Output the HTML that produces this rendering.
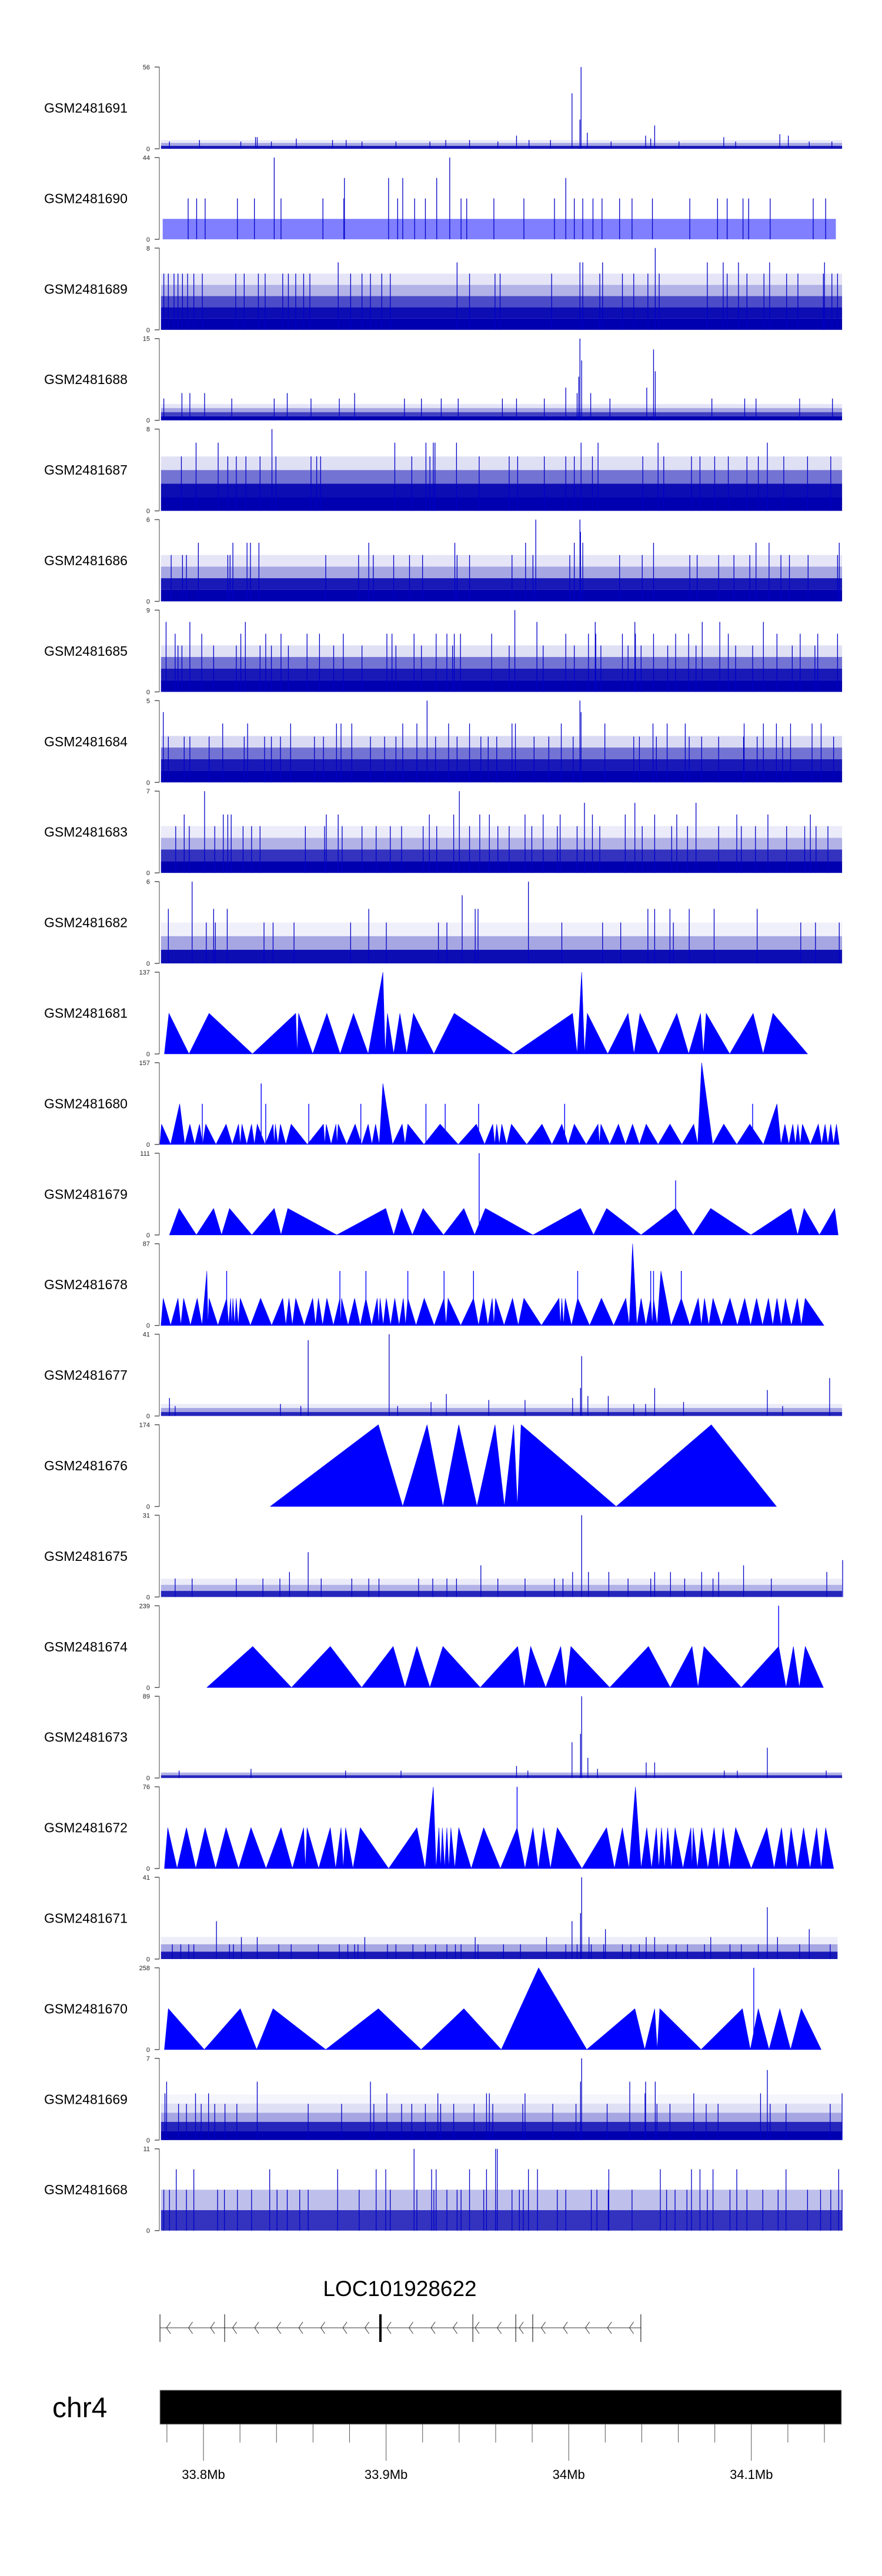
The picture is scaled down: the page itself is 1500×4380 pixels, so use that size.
<!DOCTYPE html>
<html><head><meta charset="utf-8"><title>Genome tracks chr4</title>
<style>
html,body{margin:0;padding:0;background:#fff;}
svg{display:block;font-family:"Liberation Sans",Arial,sans-serif;}
</style></head>
<body>
<svg id="chart" xmlns="http://www.w3.org/2000/svg" width="1500" height="4380" viewBox="0 0 1500 4380">
<rect x="0" y="0" width="1500" height="4380" fill="#fff"/>
<g id="tracks"></g>
<g id="gene"></g>
<g id="ideo"></g>
</svg>
<script>
// ---------- data (bins of 0.31 kb starting at 33688.4 kb) ----------
const trackNames = ["GSM2481691","GSM2481690","GSM2481689","GSM2481688","GSM2481687","GSM2481686","GSM2481685","GSM2481684","GSM2481683","GSM2481682","GSM2481681","GSM2481680","GSM2481679","GSM2481678","GSM2481677","GSM2481676","GSM2481675","GSM2481674","GSM2481673","GSM2481672","GSM2481671","GSM2481670","GSM2481669","GSM2481668"];
const trackMax = [56,44,8,15,8,6,9,5,7,6,137,157,111,87,41,174,31,239,89,76,41,258,7,11];

// noise tracks: coverage per level step + spike groups
const n1691_step = 2, n1691_cov = [0.9,0.35,0.08];
const n1691_lv = [56,38,20,16,11,10,9,8,7,6,5];
const n1691_bins = [[1027],[1011],[1025],[1157],[1038],[1378],[913,1141,1393],[452,455,1279],[524,1150],[353,588,612,788,830,973,935],[300,426,480,640,700,760,880,1080,1200,1300,1430,1470]];
const n1690_step = 11, n1690_cov = [0.5];
const n1690_lv = [44,33,22];
const n1690_bins = [[485,795],[609,687,712,772,1000],[333,348,363,420,450,497,571,608,703,733,752,815,825,873,926,980,1015,1030,1048,1064,1095,1117,1153,1219,1268,1285,1313,1323,1361,1437,1459]];
const n1689_step = 1.1, n1689_cov = [1,0.95,0.7,0.3,0.1];
const n1689_lv = [8,6.6,5.5];
const n1689_bins = [[1158],[598,808,1025,1030,1065,1250,1278,1305,1360,1457],[290,298,308,315,323,332,343,358,417,432,457,469,500,510,523,537,548,620,640,655,675,690,830,875,884,975,1060,1100,1120,1145,1165,1285,1320,1350,1390,1410,1455,1470,1480]];
const n1688_step = 0.75, n1688_cov = [1,0.75,0.35,0.1];
const n1688_lv = [15,13,11,9,8,6,5,4];
const n1688_bins = [[1025],[1155],[1028],[1158],[1023],[1000,1143],[1020,322,336,362,508,627,1044],[410,550,810,888,913,962,1078,1258,1316,1336,1413,1471,290,485,600,715,745,780]];
const n1687_step = 1.33, n1687_cov = [1,0.95,0.55,0.12];
const n1687_lv = [8,6.67,5.33];
const n1687_bins = [[481],[347,386,698,753,766,769,807,1027,1057,1163,1356],[321,403,418,435,460,488,550,560,567,728,760,847,900,915,962,1000,1015,1047,1136,1173,1222,1237,1263,1287,1320,1340,1385,1427,1468]];
const n1686_step = 0.85, n1686_cov = [1,0.9,0.35,0.1];
const n1686_lv = [6,5.1,4.3,3.4];
const n1686_bins = [[947,1025],[1026],[351,412,437,443,458,652,804,929,1015,1030,1155,1336,1359,1483],[303,323,330,403,407,576,634,660,696,724,747,808,830,905,942,1007,1095,1135,1219,1232,1270,1297,1325,1380,1395,1428,1480]];
const n1685_step = 1.28, n1685_cov = [1,0.9,0.55,0.12];
const n1685_lv = [9,7.7,6.4,5.1];
const n1685_bins = [[910],[294,336,434,949,1052,1122,1241,1272,1349],[310,357,426,470,497,543,565,607,684,693,732,771,790,803,814,869,1000,1040,1053,1100,1123,1155,1194,1217,1287,1373,1414,1445,1480],[315,322,378,418,460,480,510,590,640,700,745,800,900,960,1015,1062,1110,1133,1180,1230,1300,1330,1400,1440]];
const n1684_step = 0.71, n1684_cov = [1,0.9,0.55,0.15];
const n1684_lv = [5,4.3,3.6,2.8];
const n1684_bins = [[755,1025],[289,1027],[394,438,514,595,603,622,712,737,793,830,905,911,992,1069,1154,1179,1211,1315,1349,1372,1397,1435,1451],[298,326,336,370,432,468,480,496,556,572,655,680,700,770,808,850,863,878,944,970,1013,1120,1130,1160,1218,1240,1270,1314,1338,1383,1473]];
const n1683_step = 1, n1683_cov = [1,0.8,0.3,0.08];
const n1683_lv = [7,6,5,4];
const n1683_bins = [[362,812],[1033,1122,1230],[326,395,403,409,577,598,759,802,848,865,928,960,990,1047,1105,1157,1196,1302,1357,1432],[311,335,380,430,445,460,540,574,605,640,665,690,710,748,772,830,880,900,940,985,1020,1060,1135,1187,1215,1270,1310,1335,1390,1422,1442,1463]];
const n1682_step = 1, n1682_cov = [0.95,0.35,0.06];
const n1682_lv = [6,5,4,3];
const n1682_bins = [[340,934],[817],[298,378,402,652,840,845,1145,1157,1184,1218,1262,1338],[365,381,467,483,520,620,683,775,790,993,1065,1097,1190,1415,1441,1483]];
const n1677_step = 2, n1677_cov = [0.85,0.35,0.08];
const n1677_lv = [41,38,30,19,14,13,11,10,9,8,7,6,5];
const n1677_bins = [[688],[545],[1028],[1466],[1157,1026],[1356],[789],[1075,1039],[1012,300],[864,928],[762,1208],[496,1120,1141],[703,1383,310,532]];
const n1675_step = 2.3, n1675_cov = [0.85,0.3,0.08];
const n1675_lv = [31,17,14,12,9.5,7];
const n1675_bins = [[1028],[545],[1489],[850,1314],[512,1012,1040,1076,1157,1185,1240,1270,1461],[310,340,418,465,495,568,622,652,670,740,765,790,807,880,928,980,995,1110,1150,1210,1260,1363]];
const n1673_step = 3, n1673_cov = [0.85,0.3];
const n1673_lv = [89,48,39,33,22,17,13,10,8];
const n1673_bins = [[1028],[1026],[1011],[1356],[1039],[1142,1157],[913],[444,1056],[317,933,1303,1280,1460,611,709]];
const n1671_step = 3.7, n1671_cov = [0.9,0.35,0.07];
const n1671_lv = [41,26,23,19,15,11,7.4];
const n1671_bins = [[1028],[1356],[1026],[383,1011],[1070,1430],[427,455,645,840,966,1142,1157,1256,1374,1041],[305,320,334,343,406,413,493,515,563,600,615,627,633,685,700,730,752,770,790,805,815,845,890,920,1000,1020,1045,1067,1100,1115,1130,1180,1195,1215,1245,1290,1310,1340,1413,1467]];
const n1669_step = 0.78, n1669_cov = [1,0.85,0.35,0.12,0.04];
const n1669_lv = [7,6,5,4,3.1];
const n1669_bins = [[1028],[1356],[295,455,655,1026,1113,1141,1158],[292,346,369,684,774,860,865,928,1140,1226,1344,1488],[316,330,356,380,398,419,545,604,661,710,728,752,779,802,838,871,924,977,1018,1073,1161,1184,1248,1269,1361,1389,1467]];
const n1668_step = 2.75, n1668_cov = [0.8,0.25];
const n1668_lv = [11,8.25,5.5];
const n1668_bins = [[732,876,879],[312,343,477,597,665,682,763,771,830,860,934,950,1076,1167,1222,1237,1260,1302,1389,1482],[290,300,330,385,397,420,445,490,508,530,545,635,690,737,767,790,808,815,855,905,918,925,985,1000,1045,1055,1075,1117,1178,1193,1214,1250,1290,1320,1348,1375,1427,1450,1468,1488]];

// triangle (sparse-read) tracks: peaks + thin spikes
const t1681_peakBin = [299,370,523,528,578,625,677,685,707,731,803,1012,1028,1038,1110,1131,1196,1238,1248,1331,1366];
const t1681_peakVal = [68,68,68,68,68,68,137,68,68,68,68,68,137,68,68,68,68,68,68,68,68];
const t1681_range = [291,1427], t1681_spikeBin = [], t1681_spikeVal = [];
const t1680_peakBin = [286,318,336,353,364,400,422,428,445,455,483,487,496,515,572,577,594,598,628,651,664,677,711,721,778,842,871,878,887,904,958,993,1015,1057,1062,1093,1118,1142,1184,1226,1240,1279,1325,1373,1387,1401,1410,1418,1446,1458,1468,1478];
const t1680_peakVal = [39,78,39,39,39,39,39,39,39,39,39,39,39,39,39,39,39,39,39,39,39,117,39,39,39,39,39,39,39,39,39,39,39,39,39,39,39,39,39,39,157,39,39,78,39,39,39,39,39,39,39,39];
const t1680_range = [283,1483];
const t1680_spikeBin = [358,462,470,546,638,753,787,846,998,1330];
const t1680_spikeVal = [78,117,78,78,78,78,78,78,78,78];
const t1679_peakBin = [317,378,406,485,509,682,710,748,820,858,1026,1072,1194,1256,1398,1421,1475];
const t1679_peakVal = [36,36,36,36,36,36,36,36,36,36,36,36,36,36,36,36,36];
const t1679_range = [300,1481];
const t1679_spikeBin = [847,1194];
const t1679_spikeVal = [111,74];
const t1678_peakBin = [289,315,325,349,366,370,401,408,412,418,425,461,500,511,523,553,563,578,601,604,627,647,667,672,683,698,713,721,750,785,792,837,855,870,876,906,926,988,993,999,1021,1063,1106,1118,1133,1150,1155,1168,1204,1234,1245,1260,1290,1316,1337,1358,1373,1388,1409,1423];
const t1678_peakVal = [29,29,29,29,58,29,29,29,29,29,29,29,29,29,29,29,29,29,29,29,29,29,29,29,29,29,29,29,29,29,29,29,29,29,29,29,29,29,29,29,29,29,29,87,29,29,29,58,29,29,29,29,29,29,29,29,29,29,29,29];
const t1678_range = [285,1456];
const t1678_spikeBin = [401,601,647,721,785,837,1021,1150,1155,1204];
const t1678_spikeVal = [58,58,58,58,58,58,58,58,58,58];
const t1676_peakBin = [669,755,811,875,908,921,1257];
const t1676_peakVal = [174,174,174,174,174,174,174];
const t1676_range = [478,1372], t1676_spikeBin = [], t1676_spikeVal = [];
const t1674_peakBin = [447,584,695,737,783,915,938,991,1009,1146,1223,1244,1376,1402,1423];
const t1674_peakVal = [120,120,120,120,120,120,120,120,120,120,120,120,120,120,120];
const t1674_range = [366,1455];
const t1674_spikeBin = [1376];
const t1674_spikeVal = [239];
const t1672_peakBin = [297,330,363,400,444,497,537,543,584,603,611,637,737,766,776,782,790,797,811,855,914,942,961,985,1072,1100,1123,1143,1160,1169,1180,1193,1221,1225,1240,1262,1278,1300,1355,1381,1398,1420,1443,1459];
const t1672_peakVal = [38,38,38,38,38,38,38,38,38,38,38,38,38,76,38,38,38,38,38,38,38,38,38,38,38,38,76,38,38,38,38,38,38,38,38,38,38,38,38,38,38,38,38,38];
const t1672_range = [291,1473];
const t1672_spikeBin = [914];
const t1672_spikeVal = [76];
const t1670_peakBin = [298,425,483,669,820,952,1122,1157,1166,1312,1340,1378,1416];
const t1670_peakVal = [129,129,129,129,129,258,129,129,129,129,129,129,129];
const t1670_range = [291,1451];
const t1670_spikeBin = [1332];
const t1670_spikeVal = [258];

// gene model (kb) and axis ticks (kb)
const geneEdgesKb = [33776.2,33811.6,33896.9,33947.5,33971.0,33980.3,34039.5];
const geneThickKb = [33896.9];
const axisTicksKb = [33780,33800,33820,33840,33860,33880,33900,33920,33940,33960,33980,34000,34020,34040,34060,34080,34100,34120,34140];
const axisLabels = ["33.8Mb","33.9Mb","34Mb","34.1Mb"];
const axisLabelKb = [33800,33900,34000,34100];

// ---------- axis functions ----------
const NS = "http://www.w3.org/2000/svg";
function xKb(kb){ return 346 + (kb - 33800) * 3.106; }
function xBin(b){ return xKb(33688.4 + b * 0.31); }
const PANEL_TOP = 114, PANEL_PITCH = 153.9, PANEL_H = 139;
function panelBottom(i){ return PANEL_TOP + i * PANEL_PITCH + PANEL_H; }
function yVal(i, v){ return panelBottom(i) - v / trackMax[i] * PANEL_H; }
function mk(tag, attrs, parent){ const e = document.createElementNS(NS, tag); for (const k in attrs) e.setAttribute(k, attrs[k]); parent.appendChild(e); return e; }

const noise = {
  0:[n1691_step,n1691_cov,n1691_lv,n1691_bins,285,1488],
  1:[n1690_step,n1690_cov,n1690_lv,n1690_bins,288,1477],
  2:[n1689_step,n1689_cov,n1689_lv,n1689_bins,285,1488],
  3:[n1688_step,n1688_cov,n1688_lv,n1688_bins,285,1488],
  4:[n1687_step,n1687_cov,n1687_lv,n1687_bins,285,1488],
  5:[n1686_step,n1686_cov,n1686_lv,n1686_bins,285,1488],
  6:[n1685_step,n1685_cov,n1685_lv,n1685_bins,285,1488],
  7:[n1684_step,n1684_cov,n1684_lv,n1684_bins,285,1488],
  8:[n1683_step,n1683_cov,n1683_lv,n1683_bins,285,1488],
  9:[n1682_step,n1682_cov,n1682_lv,n1682_bins,285,1488],
  14:[n1677_step,n1677_cov,n1677_lv,n1677_bins,285,1488],
  16:[n1675_step,n1675_cov,n1675_lv,n1675_bins,285,1488],
  18:[n1673_step,n1673_cov,n1673_lv,n1673_bins,285,1488],
  20:[n1671_step,n1671_cov,n1671_lv,n1671_bins,285,1480],
  22:[n1669_step,n1669_cov,n1669_lv,n1669_bins,285,1488],
  23:[n1668_step,n1668_cov,n1668_lv,n1668_bins,285,1488]
};
const tri = {
  10:[t1681_peakBin,t1681_peakVal,t1681_range,t1681_spikeBin,t1681_spikeVal],
  11:[t1680_peakBin,t1680_peakVal,t1680_range,t1680_spikeBin,t1680_spikeVal],
  12:[t1679_peakBin,t1679_peakVal,t1679_range,t1679_spikeBin,t1679_spikeVal],
  13:[t1678_peakBin,t1678_peakVal,t1678_range,t1678_spikeBin,t1678_spikeVal],
  15:[t1676_peakBin,t1676_peakVal,t1676_range,t1676_spikeBin,t1676_spikeVal],
  17:[t1674_peakBin,t1674_peakVal,t1674_range,t1674_spikeBin,t1674_spikeVal],
  19:[t1672_peakBin,t1672_peakVal,t1672_range,t1672_spikeBin,t1672_spikeVal],
  21:[t1670_peakBin,t1670_peakVal,t1670_range,t1670_spikeBin,t1670_spikeVal]
};

const G = document.getElementById("tracks");
trackNames.forEach((name, i) => {
  const g = mk("g", {}, G);
  
  
  const top = PANEL_TOP + i * PANEL_PITCH, bot = panelBottom(i);
  const lab = mk("text", {x: 75, y: (top + bot) / 2 + 8, "font-size": 23, fill: "#000"}, g);
  lab.textContent = name;
  
  
  const ax = mk("line", {x1: 271, y1: top, x2: 271, y2: bot, stroke: "#444", "stroke-width": 1}, g);
  
  
  [[top, String(trackMax[i])], [bot, "0"]].forEach(([yy, t]) => {
    const tk = mk("line", {x1: 263, y1: yy, x2: 271, y2: yy, stroke: "#555", "stroke-width": 1.5}, g);
    
    
    const tl = mk("text", {x: 255, y: yy + 4, "font-size": 11, "text-anchor": "end", fill: "#222"}, g);
    tl.textContent = t;
    
    
  });
  if (noise[i]) {
    const [step, cov, lv, bins, s, e] = noise[i];
    const bandColor = i === 1 ? "#0000ff" : "#0000b0";
    cov.forEach((c, k) => {
      const r = mk("rect", {x: xBin(s), width: xBin(e) - xBin(s), y: yVal(i, (k + 1) * step), height: yVal(i, k * step) - yVal(i, (k + 1) * step), fill: bandColor, "fill-opacity": c}, g);
      
      
    });
    lv.forEach((v, k) => {
      (bins[k] || []).forEach(b => {
        const l = mk("line", {x1: xBin(b), x2: xBin(b), y1: bot, y2: yVal(i, v), stroke: "#0000c8", "stroke-width": 1.3}, g);
        
        
      });
    });
  }
  if (tri[i]) {
    const [pb, pv, rg, sb, sv] = tri[i];
    const pts = [[xBin(rg[0]), bot]];
    pb.forEach((b, k) => {
      pts.push([xBin(b), yVal(i, pv[k])]);
      const nb = k < pb.length - 1 ? (b + pb[k + 1]) / 2 : rg[1];
      pts.push([xBin(nb), bot]);
    });
    const poly = mk("polygon", {points: pts.map(p => p[0].toFixed(1) + "," + p[1].toFixed(1)).join(" "), fill: "#0000ff", stroke: "#0000ff", "stroke-width": 0.6}, g);
    
    
    sb.forEach((b, k) => {
      const l = mk("line", {x1: xBin(b), x2: xBin(b), y1: bot, y2: yVal(i, sv[k]), stroke: "#0000ff", "stroke-width": 1.4}, g);
      
      
    });
  }
});

// ---------- gene track ----------
const GG = document.getElementById("gene");
const gl = mk("text", {x: 680, y: 3904, "font-size": 37, "text-anchor": "middle", fill: "#000"}, GG);
gl.textContent = "LOC101928622";


const GY = 3958;
const gx0 = xKb(geneEdgesKb[0]), gx1 = xKb(geneEdgesKb[geneEdgesKb.length - 1]);
const bb = mk("line", {x1: gx0, x2: gx1, y1: GY, y2: GY, stroke: "#333", "stroke-width": 1}, GG);


geneEdgesKb.forEach(kb => {
  const thick = geneThickKb.includes(kb);
  const l = mk("line", {x1: xKb(kb), x2: xKb(kb), y1: 3935, y2: 3982, stroke: "#000", "stroke-width": thick ? 4 : 1}, GG);
  
  
});
for (let x = gx0 + 14; x < gx1 - 4; x += 37.5) {
  if (geneEdgesKb.some(kb => Math.abs(xKb(kb) - x) < 6)) continue;
  const c = mk("polyline", {points: `${x + 4},${GY - 10} ${x - 3},${GY} ${x + 4},${GY + 10}`, fill: "none", stroke: "#333", "stroke-width": 1}, GG);
  
  
}

// ---------- chromosome axis ----------
const IG = document.getElementById("ideo");
const cl = mk("text", {x: 89, y: 4110, "font-size": 48, fill: "#000"}, IG);
cl.textContent = "chr4";


const bar = mk("rect", {x: 272, y: 4064, width: 1159, height: 58, fill: "#000", stroke: "#999", "stroke-width": 1}, IG);


axisTicksKb.forEach(kb => {
  const major = axisLabelKb.includes(kb);
  const t = mk("line", {x1: xKb(kb), x2: xKb(kb), y1: 4122, y2: major ? 4184 : 4153, stroke: "#555", "stroke-width": 1}, IG);
  
  
});
axisLabelKb.forEach((kb, k) => {
  const t = mk("text", {x: xKb(kb), y: 4215, "font-size": 22, "text-anchor": "middle", fill: "#000"}, IG);
  t.textContent = axisLabels[k];
  
  
});
</script>
</body></html>
